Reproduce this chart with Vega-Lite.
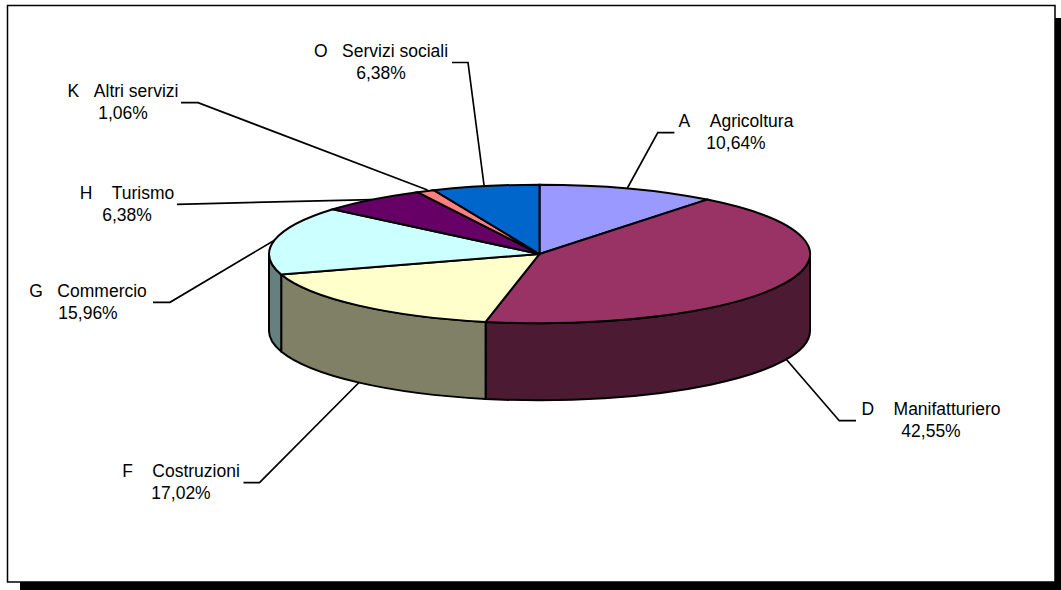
{
"$schema":"https://vega.github.io/schema/vega-lite/v6.json",
"width":1061,"height":590,"padding":0,"autosize":{"type":"none"},
"background":"white","view":{"stroke":null},
"datasets":{
"slices":[
{"sector":"A","name":"Agricoltura","share":10.64,"label":"A\u00a0\u00a0\u00a0\u00a0Agricoltura\n10,64%"},
{"sector":"D","name":"Manifatturiero","share":42.55,"label":"D\u00a0\u00a0\u00a0\u00a0Manifatturiero\n42,55%"},
{"sector":"F","name":"Costruzioni","share":17.02,"label":"F\u00a0\u00a0\u00a0\u00a0Costruzioni\n17,02%"},
{"sector":"G","name":"Commercio","share":15.96,"label":"G\u00a0\u00a0\u00a0Commercio\n15,96%"},
{"sector":"H","name":"Turismo","share":6.38,"label":"H\u00a0\u00a0\u00a0\u00a0Turismo\n6,38%"},
{"sector":"K","name":"Altri servizi","share":1.06,"label":"K\u00a0\u00a0\u00a0Altri servizi\n1,06%"},
{"sector":"O","name":"Servizi sociali","share":6.38,"label":"O\u00a0\u00a0\u00a0Servizi sociali\n6,38%"}
],
"frame":[{"part":"frame"}]
},
"resolve":{"scale":{"shape":"independent","fill":"independent"}},
"layer":[
{"data":{"name":"frame"},"mark":{"type":"rect","fill":"black"},"encoding":{
"x":{"datum":20,"type":"quantitative","scale":{"domain":[0,1061],"nice":false,"zero":false},"axis":null},"x2":{"datum":1061},
"y":{"datum":18,"type":"quantitative","scale":{"domain":[0,590],"reverse":true,"nice":false,"zero":false},"axis":null},"y2":{"datum":590}}},
{"data":{"name":"frame"},"mark":{"type":"rect","fill":"white","stroke":"black","strokeWidth":1.5},"encoding":{
"x":{"datum":7.5,"type":"quantitative","axis":null},"x2":{"datum":1055},
"y":{"datum":5.5,"type":"quantitative","axis":null},"y2":{"datum":582}}},
{"data":{"name":"slices"},"mark":{"type":"point","filled":false,"fill":"transparent","size":4,"stroke":"black","strokeWidth":1.7,"opacity":1},"encoding":{
"x":{"datum":539.5,"type":"quantitative","axis":null},"y":{"datum":254,"type":"quantitative","axis":null},
"shape":{"field":"sector","type":"nominal","legend":null,"scale":{"domain":["A","D","F","G","H","K","O"],"range":[
"M134.9,-121.3 L118.3,-121.3 L87.9,-66",
"M316.5,166.7 L299.8,166.7 L246.5,105",
"M-296,228.7 L-280,228.7 L-180,128",
"M-386.5,48.3 L-369.5,48.3 L-265,-13.8",
"M-362.5,-49.7 L-167.7,-54.4",
"M-358.5,-151.3 L-341.5,-151.3 L-112,-64",
"M-87.5,-191.5 L-71.5,-191.5 L-55.5,-69"]}}}},
{"data":{"name":"slices"},"transform":[{"filter":{"field":"sector","oneOf":["D","F","G"]}}],"mark":{"type":"point","filled":true,"size":4,"stroke":"black","strokeWidth":2,"opacity":1},"encoding":{
"x":{"datum":539.5,"type":"quantitative","axis":null},"y":{"datum":254,"type":"quantitative","axis":null},
"fill":{"field":"sector","type":"nominal","legend":null,"scale":{"domain":["D","F","G"],"range":["#4D1A33","#808066","#668080"]}},
"shape":{"field":"sector","type":"nominal","legend":null,"scale":{"domain":["D","F","G"],"range":[
"M270.5,0 A270.5,69.3 0 0 1 -53.9,67.9 L-53.9,144.9 A270.5,69.3 0 0 0 270.5,77 Z",
"M-53.9,67.9 A270.5,69.3 0 0 1 -258.3,20.5 L-258.3,97.5 A270.5,69.3 0 0 0 -53.9,144.9 Z",
"M-258.3,20.5 A270.5,69.3 0 0 1 -270.5,0 L-270.5,77 A270.5,69.3 0 0 0 -258.3,97.5 Z"]}}}},
{"data":{"name":"slices"},"mark":{"type":"point","filled":true,"size":4,"stroke":"black","strokeWidth":2,"opacity":1},"encoding":{
"x":{"datum":539.5,"type":"quantitative","axis":null},"y":{"datum":254,"type":"quantitative","axis":null},
"fill":{"field":"sector","type":"nominal","legend":null,"scale":{"domain":["A","D","F","G","H","K","O"],"range":["#9999FF","#993366","#FFFFCC","#CCFFFF","#660066","#FF8080","#0066CC"]}},
"shape":{"field":"sector","type":"nominal","legend":null,"scale":{"domain":["A","D","F","G","H","K","O"],"range":[
"M0,0 L0,-69.3 A270.5,69.3 0 0 1 167.7,-54.4 Z",
"M0,0 L167.7,-54.4 A270.5,69.3 0 0 1 -53.9,67.9 Z",
"M0,0 L-53.9,67.9 A270.5,69.3 0 0 1 -258.3,20.5 Z",
"M0,0 L-258.3,20.5 A270.5,69.3 0 0 1 -206.6,-44.7 Z",
"M0,0 L-206.6,-44.7 A270.5,69.3 0 0 1 -122,-61.8 Z",
"M0,0 L-122,-61.8 A270.5,69.3 0 0 1 -105.7,-63.8 Z",
"M0,0 L-105.7,-63.8 A270.5,69.3 0 0 1 0,-69.3 Z"]}}}},
{"data":{"name":"slices"},"transform":[{"filter":"datum.sector=='A'"}],"mark":{"type":"text","font":"Liberation Sans","fontSize":17.5,"lineBreak":"\n","lineHeight":22,"align":"center","baseline":"alphabetic","color":"#000"},"encoding":{"x":{"datum":736,"type":"quantitative","axis":null},"y":{"datum":127,"type":"quantitative","axis":null},"text":{"field":"label"}}},
{"data":{"name":"slices"},"transform":[{"filter":"datum.sector=='D'"}],"mark":{"type":"text","font":"Liberation Sans","fontSize":17.5,"lineBreak":"\n","lineHeight":22,"align":"center","baseline":"alphabetic","color":"#000"},"encoding":{"x":{"datum":931,"type":"quantitative","axis":null},"y":{"datum":415,"type":"quantitative","axis":null},"text":{"field":"label"}}},
{"data":{"name":"slices"},"transform":[{"filter":"datum.sector=='F'"}],"mark":{"type":"text","font":"Liberation Sans","fontSize":17.5,"lineBreak":"\n","lineHeight":22,"align":"center","baseline":"alphabetic","color":"#000"},"encoding":{"x":{"datum":181,"type":"quantitative","axis":null},"y":{"datum":477,"type":"quantitative","axis":null},"text":{"field":"label"}}},
{"data":{"name":"slices"},"transform":[{"filter":"datum.sector=='G'"}],"mark":{"type":"text","font":"Liberation Sans","fontSize":17.5,"lineBreak":"\n","lineHeight":22,"align":"center","baseline":"alphabetic","color":"#000"},"encoding":{"x":{"datum":88,"type":"quantitative","axis":null},"y":{"datum":297,"type":"quantitative","axis":null},"text":{"field":"label"}}},
{"data":{"name":"slices"},"transform":[{"filter":"datum.sector=='H'"}],"mark":{"type":"text","font":"Liberation Sans","fontSize":17.5,"lineBreak":"\n","lineHeight":22,"align":"center","baseline":"alphabetic","color":"#000"},"encoding":{"x":{"datum":127,"type":"quantitative","axis":null},"y":{"datum":199,"type":"quantitative","axis":null},"text":{"field":"label"}}},
{"data":{"name":"slices"},"transform":[{"filter":"datum.sector=='K'"}],"mark":{"type":"text","font":"Liberation Sans","fontSize":17.5,"lineBreak":"\n","lineHeight":22,"align":"center","baseline":"alphabetic","color":"#000"},"encoding":{"x":{"datum":123,"type":"quantitative","axis":null},"y":{"datum":97,"type":"quantitative","axis":null},"text":{"field":"label"}}},
{"data":{"name":"slices"},"transform":[{"filter":"datum.sector=='O'"}],"mark":{"type":"text","font":"Liberation Sans","fontSize":17.5,"lineBreak":"\n","lineHeight":22,"align":"center","baseline":"alphabetic","color":"#000"},"encoding":{"x":{"datum":381,"type":"quantitative","axis":null},"y":{"datum":57,"type":"quantitative","axis":null},"text":{"field":"label"}}}
]
}
